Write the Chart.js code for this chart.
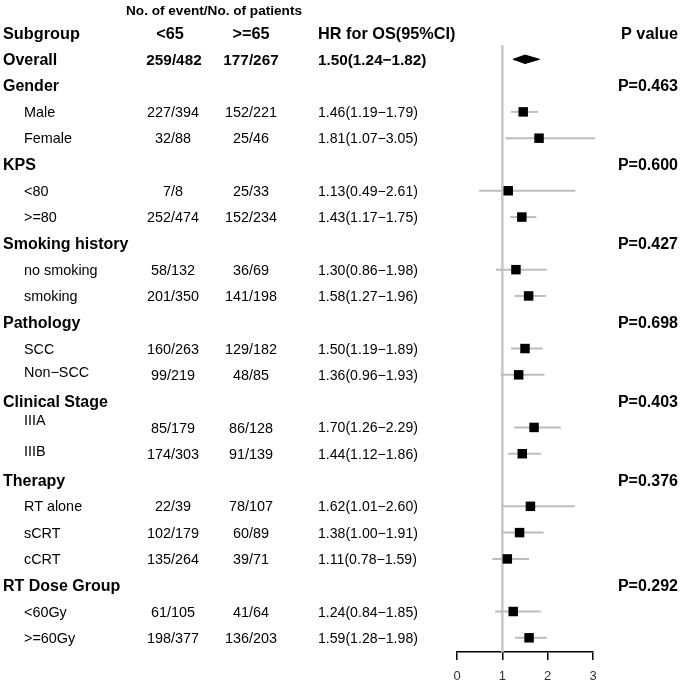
<!DOCTYPE html>
<html>
<head>
<meta charset="utf-8">
<script src="https://cdn.jsdelivr.net/npm/chart.js@4.4.1/dist/chart.umd.min.js"></script>
<style>
  html, body { margin: 0; padding: 0; background: #ffffff; }
  #wrap { width: 680px; height: 683px; }
</style>
</head>
<body>
<div id="wrap"><canvas id="c" width="680" height="683"></canvas></div>
<script>
// ---- data ----
const subgroups = ["Overall","Gender","Male","Female","KPS","<80",">=80","Smoking history","no smoking","smoking","Pathology","SCC","Non\u2212SCC","Clinical Stage","IIIA","IIIB","Therapy","RT alone","sCRT","cCRT","RT Dose Group","<60Gy",">=60Gy"];
const isHeader = [true,true,false,false,true,false,false,true,false,false,true,false,false,true,false,false,true,false,false,false,true,false,false];
const under65 = ["259/482","","227/394","32/88","","7/8","252/474","","58/132","201/350","","160/263","99/219","","85/179","174/303","","22/39","102/179","135/264","","61/105","198/377"];
const over65  = ["177/267","","152/221","25/46","","25/33","152/234","","36/69","141/198","","129/182","48/85","","86/128","91/139","","78/107","60/89","39/71","","41/64","136/203"];
const hr    = [1.50,null,1.46,1.81,null,1.13,1.43,null,1.30,1.58,null,1.50,1.36,null,1.70,1.44,null,1.62,1.38,1.11,null,1.24,1.59];
const hrLow = [1.24,null,1.19,1.07,null,0.49,1.17,null,0.86,1.27,null,1.19,0.96,null,1.26,1.12,null,1.01,1.00,0.78,null,0.84,1.28];
const hrHigh= [1.82,null,1.79,3.05,null,2.61,1.75,null,1.98,1.96,null,1.89,1.93,null,2.29,1.86,null,2.60,1.91,1.59,null,1.85,1.98];
const pValues = ["","P=0.463","","","P=0.600","","","P=0.427","","","P=0.698","","","P=0.403","","","P=0.376","","","","P=0.292","",""];
const xTicks = [0,1,2,3];
const refValue = 1;

// ---- build datasets ----
const FONT = '"Liberation Sans", Arial, Helvetica, sans-serif';
const datasets = [];
// reference line
datasets.push({
  type: 'line',
  data: [{x: refValue, y: 0.46}, {x: refValue, y: 23.55}],
  borderColor: '#c9c9c9', borderWidth: 2.6, pointRadius: 0, clip: false, order: 5
});
// CI lines (overall drawn as diamond)
for (let i = 1; i < hr.length; i++) {
  if (hr[i] === null) continue;
  datasets.push({
    type: 'line',
    data: [{x: hrLow[i], y: i + 1}, {x: hrHigh[i], y: i + 1}],
    borderColor: '#bdbdbd', borderWidth: 2, pointRadius: 0, clip: false, order: 4
  });
}
// squares
const pts = [];
for (let i = 1; i < hr.length; i++) {
  if (hr[i] !== null) pts.push({x: hr[i], y: i + 1});
}
datasets.push({
  type: 'scatter',
  data: pts,
  pointStyle: 'rect', pointRadius: 6.7, pointHoverRadius: 6.7,
  backgroundColor: '#000', borderColor: '#000', borderWidth: 0, clip: false, order: 1
});
// overall diamond
datasets.push({
  type: 'line',
  data: [{x: hrLow[0], y: 1}, {x: hr[0], y: 0.84}, {x: hrHigh[0], y: 1}, {x: hr[0], y: 1.16}, {x: hrLow[0], y: 1}],
  borderColor: '#000', borderWidth: 1, backgroundColor: '#000', fill: 'shape', pointRadius: 0, clip: false, order: 0
});

// small vertical quirks of the original label placement (pixels)
const labelShift = { "IIIA": -8, "IIIB": -3, "Non\u2212SCC": -3 };

// ---- text table plugin ----
const tablePlugin = {
  id: 'tableText',
  afterDraw(chart) {
    const ctx = chart.ctx;
    const ys = chart.scales.y;
    ctx.save();
    ctx.fillStyle = '#000';
    const put = (text, x, rowVal, size, bold, align, dy) => {
      if (!text) return;
      ctx.font = (bold ? 'bold ' : '') + size + 'px ' + FONT;
      ctx.textAlign = align;
      ctx.textBaseline = 'alphabetic';
      const y = ys.getPixelForValue(rowVal) + 0.358 * size + (dy || 0);
      ctx.fillText(text, x, y);
    };
    // top super header
    put('No. of event/No. of patients', 214, -0.88, 13.6, true, 'center');
    // column headers (row 0)
    put('Subgroup', 3, 0, 16.3, true, 'left');
    put('<65', 170, 0, 16.3, true, 'center');
    put('>=65', 251, 0, 16.3, true, 'center');
    put('HR for OS(95%CI)', 318, 0, 16.3, true, 'left');
    put('P value', 678, 0, 16.3, true, 'right');
    for (let i = 0; i < subgroups.length; i++) {
      const r = i + 1;
      if (i === 0) {
        put(subgroups[i], 3, r, 16, true, 'left');
        put(under65[i], 174, r, 15.3, true, 'center');
        put(over65[i], 251, r, 15.3, true, 'center');
        put(hr[i].toFixed(2) + '(' + hrLow[i].toFixed(2) + '\u2212' + hrHigh[i].toFixed(2) + ')', 318, r, 15.3, true, 'left');
      } else if (isHeader[i]) {
        put(subgroups[i], 3, r, 16, true, 'left');
        put(pValues[i], 678, r, 16, true, 'right');
      } else {
        put(subgroups[i], 24, r, 14.4, false, 'left', labelShift[subgroups[i]] || 0);
        put(under65[i], 173, r, 14.4, false, 'center');
        put(over65[i], 251, r, 14.4, false, 'center');
        put(hr[i].toFixed(2) + '(' + hrLow[i].toFixed(2) + '\u2212' + hrHigh[i].toFixed(2) + ')', 318, r, 14.1, false, 'left');
      }
    }
    ctx.restore();
  }
};

new Chart(document.getElementById('c'), {
  type: 'scatter',
  data: { datasets },
  options: {
    responsive: false,
    animation: false,
    devicePixelRatio: 1,
    layout: { padding: { left: 457, right: 87, top: 33, bottom: 0 } },
    plugins: { legend: { display: false }, tooltip: { enabled: false } },
    scales: {
      x: {
        type: 'linear', min: 0, max: 3,
        afterBuildTicks(scale) { scale.ticks = xTicks.map(v => ({value: v})); },
        afterFit(scale) { scale.height = 31; },
        border: { display: true, color: '#000', width: 1.5 },
        grid: { drawOnChartArea: false, drawTicks: true, tickLength: 8, color: '#000', lineWidth: 1.5 },
        ticks: { padding: 9, color: '#333', font: { family: FONT, size: 13 } }
      },
      y: {
        type: 'linear', display: false, reverse: true, min: 0, max: 23.54
      }
    }
  },
  plugins: [tablePlugin]
});
</script>
</body>
</html>
